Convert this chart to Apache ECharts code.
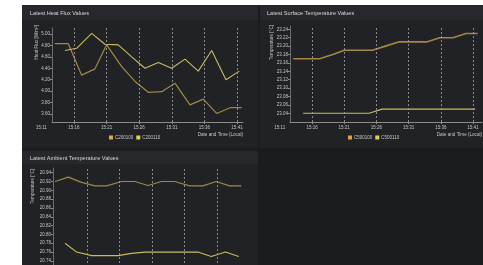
<!DOCTYPE html>
<html>
<head>
<meta charset="utf-8">
<script src="https://cdn.jsdelivr.net/npm/echarts@6/dist/echarts.min.js"></script>
<style>
  html, body { margin: 0; padding: 0; background: #fff; overflow: hidden; }
  /* taller than the window: the ambient panel runs past the bottom edge */
  #main { width: 483px; height: 300px; }
</style>
</head>
<body>
<div id="main"></div>
<script>
// time stamps, minutes after 15:00
var timesA = [13.09, 15.13, 17.18, 19.22, 21.01, 23.32, 25.36, 27.40, 29.45, 31.49, 33.79, 35.83, 37.88, 39.93, 41.72];
var timesB = [14.62, 16.41, 18.71, 20.75, 22.79, 24.85, 26.89, 28.93, 30.98, 33.02, 35.06, 37.12, 39.31, 41.35];

// heat flux [W/m2]
var heatA = [4.83, 4.83, 4.28, 4.39, 4.81, 4.43, 4.17, 3.98, 3.99, 4.14, 3.76, 3.86, 3.61, 3.71, 3.71];
var heatB = [4.71, 4.75, 5.01, 4.82, 4.81, 4.60, 4.40, 4.50, 4.40, 4.56, 4.35, 4.71, 4.20, 4.35];
// surface temperature
var surfA = [23.17, 23.17, 23.17, 23.18, 23.19, 23.19, 23.19, 23.20, 23.21, 23.21, 23.21, 23.22, 23.22, 23.23, 23.23];
var surfB = [23.04, 23.04, 23.04, 23.04, 23.04, 23.04, 23.05, 23.05, 23.05, 23.05, 23.05, 23.05, 23.05, 23.05];
// ambient temperature
var ambA = [20.92, 20.93, 20.918, 20.91, 20.91, 20.92, 20.92, 20.911, 20.92, 20.92, 20.91, 20.91, 20.92, 20.91, 20.91];
var ambB = [20.78, 20.76, 20.752, 20.752, 20.752, 20.757, 20.76, 20.76, 20.76, 20.76, 20.76, 20.75, 20.76, 20.75];

// tick labels
var heatTicks = [3.6, 3.8, 4.0, 4.2, 4.4, 4.6, 4.8, 5.0];
var surfTicks = [23.04, 23.06, 23.08, 23.10, 23.12, 23.14, 23.16, 23.18, 23.20, 23.22, 23.24];
var ambTicks = [20.72, 20.74, 20.76, 20.78, 20.80, 20.82, 20.84, 20.86, 20.88, 20.90, 20.92, 20.94];
var timeTicks = [16, 21, 26, 31, 36, 41];
var ambTimeTicks = [18, 23, 28, 33, 38];
var firstTick = 11;

var heatNames = ['C200100', 'C200110'];
var surfNames = ['C500100', 'C500110'];
var ambNames = ['C300100', 'C300110'];

var FONT = '"Liberation Sans", Arial, sans-serif';
var LABEL = '#c6c6c6';
var AXIS = '#8c8c8c';
var GRIDLINE = '#a4a4a4';
var COLOR_A = '#e6a23c', COLOR_B = '#e4d24e';
var LINE_A = '#a38744', LINE_B = '#c9bc5d';

function pairs(times, vals) {
  return times.map(function (t, i) { return [t, vals[i]]; });
}
function fmtTime(v) { return '15:' + (v < 10 ? '0' : '') + v; }

function xAxis(gi, min, max, ticks, showName) {
  return {
    type: 'value', gridIndex: gi, min: min, max: max,
    name: showName ? 'Date and Time (Local)' : '',
    nameLocation: 'end', nameGap: 0,
    nameTextStyle: { color: LABEL, fontSize: 4.6, fontFamily: FONT, align: 'right', verticalAlign: 'top', padding: [10, 0, 0, 0] },
    axisLine: { show: true, onZero: false, lineStyle: { color: AXIS, width: 1 } },
    axisTick: { show: true, length: 2, customValues: ticks, lineStyle: { color: AXIS } },
    axisLabel: { customValues: ticks, formatter: fmtTime, fontSize: 4.5, color: LABEL, margin: 3, fontFamily: FONT },
    splitLine: { show: false }
  };
}
function yAxis(gi, min, max, ticks) {
  return {
    type: 'value', gridIndex: gi, min: min, max: max,
    axisLine: { show: true, lineStyle: { color: '#6e6e6e', width: 1 } },
    axisTick: { show: true, length: 2, customValues: ticks, lineStyle: { color: AXIS } },
    axisLabel: { customValues: ticks, formatter: function (v) { return v.toFixed(2); }, fontSize: 4.5, color: LABEL, margin: 2, fontFamily: FONT },
    splitLine: { show: false }
  };
}
function gridLines(ticks) {
  return {
    silent: true, symbol: ['none', 'none'], label: { show: false }, animation: false,
    lineStyle: { color: GRIDLINE, type: [2, 2], width: 0.8 },
    data: ticks.map(function (v) { return { xAxis: v }; })
  };
}
function line(name, gi, data, lineColor, iconColor, width, marks) {
  var s = {
    name: name, type: 'line', xAxisIndex: gi, yAxisIndex: gi, data: data,
    showSymbol: false, symbol: 'none', animation: false,
    lineStyle: { color: lineColor, width: width },
    itemStyle: { color: iconColor }
  };
  if (marks) s.markLine = marks;
  return s;
}
function legend(names, left, top) {
  return {
    data: names, left: left, top: top, icon: 'rect', itemWidth: 4, itemHeight: 4, itemGap: 3, padding: 0,
    textStyle: { color: LABEL, fontSize: 4.5, fontFamily: FONT, padding: [0, 0, 0, -3] }, selectedMode: false
  };
}
function title(text, left, top) {
  return { text: text, left: left, top: top, padding: 0, textStyle: { color: '#d6d6d6', fontSize: 5.6, fontWeight: 'normal', fontFamily: FONT } };
}

var chart = echarts.init(document.getElementById('main'));
chart.setOption({
  animation: false,
  title: [
    title('Latest Heat Flux Values', 30, 10),
    title('Latest Surface Temperature Values', 267, 10),
    title('Latest Ambient Temperature Values', 30, 155)
  ],
  legend: [legend(heatNames, 109, 135), legend(surfNames, 348, 135)],
  grid: [
    { left: 52, top: 28, width: 191, height: 94 },
    { left: 290, top: 26, width: 192, height: 96 },
    { left: 53, top: 168, width: 190, height: 111 }
  ],
  xAxis: [
    xAxis(0, 12.63, 41.92, timeTicks, true),
    xAxis(1, 12.58, 42.40, timeTicks, true),
    xAxis(2, 12.77, 42.0, ambTimeTicks, false)
  ],
  yAxis: [
    yAxis(0, 3.46, 5.105, heatTicks),
    yAxis(1, 23.0193, 23.2479, surfTicks),
    yAxis(2, 20.699, 20.9506, ambTicks)
  ],
  series: [
    line(heatNames[0], 0, pairs(timesA, heatA), LINE_A, COLOR_A, 1.2, gridLines(timeTicks)),
    line(heatNames[1], 0, pairs(timesB, heatB), LINE_B, COLOR_B, 1.1),
    line(surfNames[0], 1, pairs(timesA, surfA), LINE_A, COLOR_A, 1.6, gridLines(timeTicks)),
    line(surfNames[1], 1, pairs(timesB, surfB), LINE_B, COLOR_B, 1.1),
    line(ambNames[0], 2, pairs(timesA, ambA), LINE_A, COLOR_A, 1.2, gridLines(ambTimeTicks)),
    line(ambNames[1], 2, pairs(timesB, ambB), LINE_B, COLOR_B, 1.1)
  ]
});

// panels, first tick labels and axis titles
var x0 = chart.convertToPixel({ xAxisIndex: 0 }, firstTick);
var x1 = chart.convertToPixel({ xAxisIndex: 1 }, firstTick);
var tickFont = '4.5px ' + FONT;
var nameFont = '4.6px ' + FONT;
chart.setOption({
  graphic: [
    { type: 'rect', z: -10, shape: { x: 22, y: 5, width: 461, height: 295 }, style: { fill: '#1a1c1f' } },
    { type: 'rect', z: -9, shape: { x: 22, y: 5, width: 236, height: 143 }, style: { fill: '#202226' } },
    { type: 'rect', z: -8, shape: { x: 22, y: 5, width: 236, height: 15 }, style: { fill: '#26282c' } },
    { type: 'rect', z: -9, shape: { x: 260, y: 5, width: 223, height: 143 }, style: { fill: '#202226' } },
    { type: 'rect', z: -8, shape: { x: 260, y: 5, width: 223, height: 15 }, style: { fill: '#26282c' } },
    { type: 'rect', z: -9, shape: { x: 22, y: 151, width: 236, height: 149 }, style: { fill: '#202226' } },
    { type: 'rect', z: -8, shape: { x: 22, y: 151, width: 236, height: 13 }, style: { fill: '#26282c' } },
    { type: 'text', x: x0, y: 125, style: { text: fmtTime(firstTick), font: tickFont, fill: LABEL, align: 'center', verticalAlign: 'top' } },
    { type: 'text', x: x1, y: 125, style: { text: fmtTime(firstTick), font: tickFont, fill: LABEL, align: 'center', verticalAlign: 'top' } },
    { type: 'text', x: 37, y: 25, rotation: Math.PI / 2, style: { text: 'Heat Flux [W/m²]', font: nameFont, fill: LABEL, align: 'right', verticalAlign: 'middle' } },
    { type: 'text', x: 272, y: 25, rotation: Math.PI / 2, style: { text: 'Temperature [°C]', font: nameFont, fill: LABEL, align: 'right', verticalAlign: 'middle' } },
    { type: 'text', x: 33, y: 169, rotation: Math.PI / 2, style: { text: 'Temperature [°C]', font: nameFont, fill: LABEL, align: 'right', verticalAlign: 'middle' } }
  ]
});
</script>
</body>
</html>
